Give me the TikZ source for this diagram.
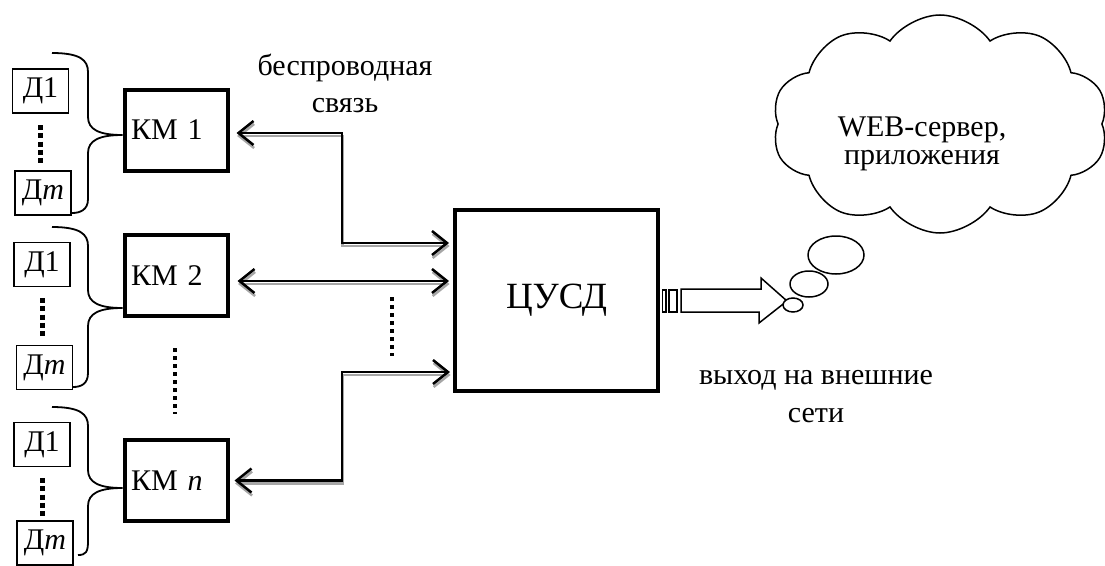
\documentclass[tikz,border=0pt]{standalone}
\usepackage{fontspec}
\setmainfont{Liberation Serif}
\usetikzlibrary{arrows.meta,shapes.symbols,shapes.geometric,calc}
\newcommand\wire[1]{%
  \draw[wireshadow,transform canvas={shift={(0.6pt,-3pt)}}] #1;
  \draw[wireline] #1;}
\newcommand\sbrace[5]{% top y, tip y, bottom y, bottom x, target node
  \draw[bracel] (52,#1) .. controls (80,#1) and (88,#1+7) .. (88,#1+19)
    -- (88,#2-18) .. controls (88,#2-5) and (100,#2) .. (#5.west |- 0,#2)
    .. controls (100,#2) and (88,#2+5) .. (88,#2+18)
    -- (88,#3-14) .. controls (88,#3-3) and (#4+8,#3) .. (#4,#3);}
\begin{document}
\begin{tikzpicture}[x=1pt,y=-1pt,
  every node/.style={font=\fontsize{30}{36}\selectfont},
  sensor/.style={draw,line width=1.5pt,inner sep=0pt,minimum width=56pt,minimum height=44pt},
  kmbox/.style={draw,line width=4pt,minimum width=103pt,minimum height=81pt,text width=90pt,align=left,inner xsep=0pt},
  hub/.style={draw,line width=4pt,minimum width=203pt,minimum height=181pt,font=\fontsize{37}{40}\selectfont},
  bracel/.style={line width=1.8pt},
  wireline/.style={line width=2.5pt,{Straight Barb[length=15pt,width=24pt]}-{Straight Barb[length=15pt,width=24pt]}},
  wireshadow/.style={line width=2.5pt,black!35,{Straight Barb[length=15pt,width=24pt]}-{Straight Barb[length=15pt,width=24pt]}},
  sqdots/.style={line width=5pt,dash pattern=on 5pt off 3.3pt},
  smalldots/.style={line width=4pt,dash pattern=on 4pt off 4pt},
  thin/.style={line width=1.5pt},
  bubble/.style={draw,line width=1.5pt,fill=white,ellipse,inner sep=0pt},
  lbl/.style={align=center},
]
\useasboundingbox (0,0) rectangle (1105,565);

% sensors
\node[sensor] (s1a) at (40.5,91) {Д1};
\node[sensor] (s1m) at (43,193) {Д\textit{m}};
\node[sensor] (s2a) at (42,264.5) {Д1};
\node[sensor] (s2m) at (44.5,367.5) {Д\textit{m}};
\node[sensor] (s3a) at (42,444.5) {Д1};
\node[sensor] (s3m) at (45,543) {Д\textit{m}};
\draw[sqdots] (s1a.south |- 0,125) -- (s1a.south |- 0,163);
\draw[sqdots] (s2a.south |- 0,298) -- (s2a.south |- 0,337);
\draw[sqdots] (s3a.south |- 0,478) -- (s3a.south |- 0,517);

% controller modules
\node[kmbox] (km1) at (176,130) {КМ 1};
\node[kmbox] (km2) at (176,275.5) {КМ 2};
\node[kmbox] (kmn) at (176,480.5) {КМ \textit{n}};
\draw[smalldots] (175,348) -- (175,414);

% braces
\sbrace{53}{135}{213}{72}{km1}
\sbrace{227}{308}{387}{73}{km2}
\sbrace{407}{488}{555}{78}{kmn}

% central unit
\node[hub] (cusd) at (556.5,300.5) {ЦУСД};

% links
\coordinate (bus1) at (342,188);
\coordinate (bus3) at (342,420);
\wire{([xshift=7pt,yshift=-3pt]km1.east) -| (bus1) |- ([xshift=-4pt,yshift=57.5pt]cusd.west)}
\wire{([xshift=8pt,yshift=-5.5pt]km2.east) -- ([xshift=-4pt,yshift=19.5pt]cusd.west)}
\wire{([xshift=5pt]kmn.east) -| (bus3) |- ([xshift=-3pt,yshift=-71.5pt]cusd.west)}
\draw[smalldots] (392,297) -- (392,356);

% labels
\node[lbl,font=\fontsize{30}{37}\selectfont] (wl) at (345,83) {беспроводная\\связь};
\node[lbl,font=\fontsize{30}{38}\selectfont] (ol) at (816,397) {выход на внешние\\сети};

% cloud
\node[cloud,draw,line width=1.5pt,cloud puffs=10,cloud puff arc=110,cloud ignores aspect,
      minimum width=336pt,minimum height=218pt] (cl) at (940,124) {};
\node[lbl,font=\fontsize{30}{28}\selectfont] (ct) at (922,144) {WEB-сервер,\\приложения};
\node[bubble,minimum width=56pt,minimum height=38pt] (b1) at (836,255) {};
\node[bubble,minimum width=38pt,minimum height=26pt] (b2) at (809,284) {};

% output arrow
\draw[thin] ([xshift=2.5pt,yshift=10.5pt]cusd.east) rectangle ([xshift=6pt,yshift=-11.5pt]cusd.east);
\draw[thin] ([xshift=9pt,yshift=10.5pt]cusd.east) rectangle ([xshift=17pt,yshift=-11.5pt]cusd.east);
\draw[thin,fill=white] ([xshift=21pt,yshift=11.5pt]cusd.east) -- ++(80,0) -- ++(0,-11) -- (787,301) -- (759,323) -- (759,312) -- ([xshift=21pt,yshift=-11.5pt]cusd.east) -- cycle;
\node[bubble,minimum width=20pt,minimum height=14pt] (b3) at (793,305) {};
\end{tikzpicture}
\end{document}
